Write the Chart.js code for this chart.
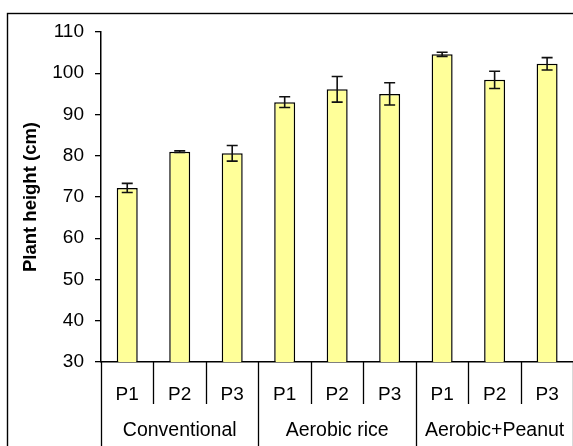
<!DOCTYPE html>
<html>
<head>
<meta charset="utf-8">
<script src="https://cdn.jsdelivr.net/npm/chart.js@4"></script>
<style>
  html, body { margin: 0; padding: 0; background: #fff; overflow: hidden; }
  #wrap { position: absolute; left: 0; top: 0; width: 580px; height: 446px; }
</style>
</head>
<body>
<div id="wrap"><canvas id="heightChart" width="580" height="446"></canvas></div>
<script>
const groups = ['Conventional', 'Aerobic rice', 'Aerobic+Peanut'];
const labels = ['P1', 'P2', 'P3', 'P1', 'P2', 'P3', 'P1', 'P2', 'P3'];
const heights = [72.2, 81.0, 80.6, 93.0, 96.1, 95.0, 104.6, 98.4, 102.3];
const errors = [1.1, 0.2, 1.9, 1.3, 3.1, 2.7, 0.5, 2.1, 1.5];
const yTicks = [30, 40, 50, 60, 70, 80, 90, 100, 110];

const FONT = "'Liberation Sans', Arial, sans-serif";

// outer frame, only top and left are inside the picture
const framePlugin = {
    id: 'frame',
    beforeDraw(chart) {
        const c = chart.ctx;
        c.save();
        c.strokeStyle = '#000';
        c.lineWidth = 1.4;
        c.strokeRect(7.5, 13.5, 700, 600);
        c.restore();
    }
};

const errorBars = {
    id: 'errorBars',
    afterDatasetsDraw(chart) {
        const c = chart.ctx;
        const y = chart.scales.y;
        const meta = chart.getDatasetMeta(0);
        c.save();
        c.strokeStyle = '#111';
        c.lineWidth = 1.6;
        meta.data.forEach((bar, i) => {
            const x = bar.x;
            const top = y.getPixelForValue(heights[i] + errors[i]);
            const bot = y.getPixelForValue(heights[i] - errors[i]);
            c.beginPath();
            c.moveTo(x, top); c.lineTo(x, bot);
            c.moveTo(x - 5.5, top); c.lineTo(x + 5.5, top);
            c.moveTo(x - 5.5, bot); c.lineTo(x + 5.5, bot);
            c.stroke();
        });
        c.restore();
    }
};

// two level category axis: separators and group names
const groupAxis = {
    id: 'groupAxis',
    afterDraw(chart) {
        const c = chart.ctx;
        const x = chart.scales.x;
        const base = chart.chartArea.bottom;
        const half = (x.getPixelForValue(1) - x.getPixelForValue(0)) / 2;
        c.save();
        c.strokeStyle = '#000';
        c.lineWidth = 1.3;
        for (let i = 0; i <= labels.length; i++) {
            const px = Math.round(x.getPixelForValue(i) - half) + 0.5;
            const end = (i % 3 === 0) ? chart.height : base + 42;
            c.beginPath();
            c.moveTo(px, base);
            c.lineTo(px, end);
            c.stroke();
        }
        c.fillStyle = '#000';
        c.font = '19.5px ' + FONT;
        c.textAlign = 'center';
        c.textBaseline = 'middle';
        groups.forEach((g, k) => {
            const cx = x.getPixelForValue(k * 3 + 1);
            c.fillText(g, cx, 431);
        });
        c.restore();
    }
};

const ctx = document.getElementById('heightChart').getContext('2d');
const chart = new Chart(ctx, {
    type: 'bar',
    data: {
        labels: labels,
        datasets: [{
            label: 'Plant height (cm)',
            data: heights,
            backgroundColor: '#ffff99',
            borderColor: '#000',
            borderWidth: 1.5,
            categoryPercentage: 1.0,
            barPercentage: 0.4
        }]
    },
    options: {
        responsive: false,
        animation: false,
        layout: { padding: { left: 0, right: 5, top: 32, bottom: 0 } },
        plugins: {
            legend: { display: false },
            tooltip: { enabled: false }
        },
        scales: {
            x: {
                grid: { display: false, drawTicks: false, tickLength: 0 },
                border: { display: true, color: '#000', width: 1.5 },
                ticks: {
                    color: '#000',
                    font: { family: FONT, size: 19 },
                    padding: 21,
                    maxRotation: 0
                },
                afterFit(s) { s.height = 84; }
            },
            y: {
                min: 30,
                max: 110,
                afterBuildTicks(s) { s.ticks = yTicks.map(v => ({ value: v })); },
                grid: { drawOnChartArea: false, color: '#000', tickLength: 6, lineWidth: 1.3 },
                border: { display: true, color: '#000', width: 1.5 },
                ticks: {
                    color: '#000',
                    font: { family: FONT, size: 19 },
                    padding: 11
                },
                title: {
                    display: true,
                    text: 'Plant height (cm)',
                    color: '#000',
                    font: { family: FONT, size: 18.5, weight: 'bold' },
                    padding: { top: 20, bottom: 0 }
                },
                afterFit(s) { s.width = 101; }
            }
        }
    },
    plugins: [framePlugin, errorBars, groupAxis]
});
</script>
</body>
</html>
